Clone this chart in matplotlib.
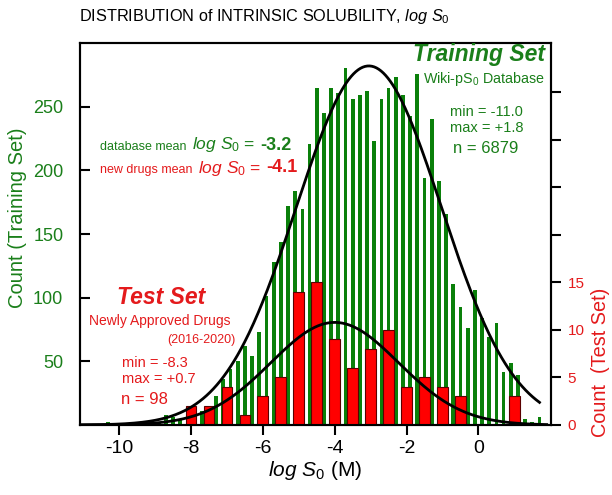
import numpy as np
import matplotlib
matplotlib.use('Agg')
import matplotlib.pyplot as plt
from matplotlib.offsetbox import TextArea, HPacker, AnnotationBbox

plt.rcParams['font.family'] = ['Liberation Sans', 'DejaVu Sans']
plt.rcParams['mathtext.fontset'] = 'custom'
plt.rcParams['mathtext.rm'] = 'Liberation Sans'
plt.rcParams['mathtext.it'] = 'Liberation Sans:italic'
plt.rcParams['mathtext.bf'] = 'Liberation Sans:bold'
plt.rcParams['axes.unicode_minus'] = False

# ---------------- data ----------------
train_centers = [-10.3, -10.1, -9.9, -9.7, -9.5, -9.3, -9.1, -8.9, -8.7, -8.5,
                 -8.3, -8.1, -7.9, -7.7, -7.5, -7.3, -7.1, -6.9, -6.7, -6.5,
                 -6.3, -6.1, -5.9, -5.7, -5.5, -5.3, -5.1, -4.9, -4.7, -4.5,
                 -4.3, -4.1, -3.9, -3.7, -3.5, -3.3, -3.1, -2.9, -2.7, -2.5,
                 -2.3, -2.1, -1.9, -1.7, -1.5, -1.3, -1.1, -0.9, -0.7, -0.5,
                 -0.3, -0.1, 0.1, 0.3, 0.5, 0.7, 0.9, 1.1, 1.3, 1.5, 1.7]
train_counts = [2, 0, 0, 1, 1, 1, 1, 2, 8, 6,
                5, 10, 10, 11, 14, 23, 36, 44, 50, 62,
                54, 73, 101, 128, 144, 172, 184, 170, 221, 265,
                245, 265, 261, 280, 256, 259, 262, 223, 256, 265,
                273, 259, 243, 276, 194, 240, 192, 166, 111, 93,
                76, 106, 84, 69, 80, 42, 49, 39, 5, 2, 6]

test_centers = [-8.0, -7.5, -7.0, -6.5, -6.0, -5.5, -5.0, -4.5, -4.0, -3.5,
                -3.0, -2.5, -2.0, -1.5, -1.0, -0.5, 0.0, 0.5, 1.0]
test_counts = [2, 2, 4, 1, 3, 5, 14, 15, 9, 6,
               8, 10, 4, 5, 4, 3, 0, 0, 3]

# Gaussian fits
train_amp, train_mu, train_sigma = 282.0, -3.05, 2.02
test_amp, test_mu, test_sigma = 10.8, -4.0, 1.78
train_fit_range = (-11.05, 1.7)
test_fit_range = (-11.05, 1.9)

x_ticks = [-10, -8, -6, -4, -2, 0]
left_ticks = [50, 100, 150, 200, 250]
right_ticks = [0, 5, 10, 15, 20, 25, 30, 35]
right_ticklabels = ['0', '5', '10', '15', '', '', '', '']

GREEN_BAR = '#0a800a'
GREEN_TXT = '#1a7f1a'
RED_BAR = '#ff0000'
RED_TXT = '#e41a1c'

# ---------------- figure ----------------
W, H = 612, 495
fig = plt.figure(figsize=(W / 100, H / 100), dpi=100)
L, R, T, B = 80, 551, 42.5, 425
ax = fig.add_axes([L / W, 1 - B / H, (R - L) / W, (B - T) / H])
ax2 = ax.twinx()


def fx(x):
    return x / W


def fy(y):
    return 1 - y / H


ax.bar(train_centers, train_counts, width=0.105, color=GREEN_BAR, linewidth=0)
ax2.bar(test_centers, test_counts, width=0.3, color=RED_BAR,
        edgecolor='#5a0000', linewidth=0.8)

xt = np.linspace(train_fit_range[0], train_fit_range[1], 400)
yt = train_amp * np.exp(-(xt - train_mu) ** 2 / (2 * train_sigma ** 2))
ax2.plot(xt, yt, color='black', lw=2.0, transform=ax.transData, zorder=3)

xs = np.linspace(test_fit_range[0], test_fit_range[1], 400)
ys = test_amp * np.exp(-(xs - test_mu) ** 2 / (2 * test_sigma ** 2))
ax2.plot(xs, ys, color='black', lw=2.0, zorder=3)

ax.set_xlim(-11.09, 2.02)
ax.set_ylim(0, 300.4)
ax2.set_ylim(0, 40.26)

ax.set_xticks(x_ticks)
ax.set_xticklabels([str(v) for v in x_ticks])
ax.set_yticks(left_ticks)
ax.set_yticklabels([str(v) for v in left_ticks])
ax2.set_yticks(right_ticks)
ax2.set_yticklabels(right_ticklabels)

ax.tick_params(axis='x', direction='out', length=7, width=1.5, labelsize=14,
               pad=4, colors='black')
ax.tick_params(axis='y', direction='in', length=7, width=1.5, labelsize=13,
               pad=12, labelcolor=GREEN_TXT)
ax2.tick_params(axis='y', direction='out', length=7, width=1.5, labelsize=11,
                pad=5, labelcolor=RED_TXT)
for a in (ax, ax2):
    for s in a.spines.values():
        s.set_linewidth(1.5)

# labels
fig.text(fx(264), fy(16), r'DISTRIBUTION of INTRINSIC SOLUBILITY, $\mathit{log\ S_0}$',
         ha='center', va='center', fontsize=11.7)
fig.text(fx(315), fy(470), r'$\mathit{log\ S_0}$ (M)', ha='center', va='center',
         fontsize=15)
fig.text(fx(18), fy(218), 'Count (Training Set)', rotation=90, ha='center',
         va='center', fontsize=14.5, color=GREEN_TXT)
fig.text(fx(600), fy(362), 'Count  (Test Set)', rotation=90, ha='center',
         va='center', fontsize=14.3, color=RED_TXT)

# training annotations
fig.text(fx(545), fy(55), 'Training Set', ha='right', va='center', fontsize=16.5,
         fontweight='bold', fontstyle='italic', color=GREEN_TXT)
fig.text(fx(545), fy(79), r'Wiki-p$\mathrm{S_0}$ Database', ha='right', va='center',
         fontsize=10.3, color=GREEN_TXT)
fig.text(fx(450), fy(112), 'min = -11.0', ha='left', va='center', fontsize=10.5,
         color=GREEN_TXT)
fig.text(fx(450), fy(128), 'max = +1.8', ha='left', va='center', fontsize=10.5,
         color=GREEN_TXT)
fig.text(fx(453), fy(149), 'n = 6879', ha='left', va='center', fontsize=12,
         color=GREEN_TXT)

# test annotations
fig.text(fx(117), fy(297), 'Test Set', ha='left', va='center', fontsize=16.5,
         fontweight='bold', fontstyle='italic', color=RED_TXT)
fig.text(fx(89), fy(321), 'Newly Approved Drugs', ha='left', va='center',
         fontsize=10, color=RED_TXT)
fig.text(fx(235), fy(340), '(2016-2020)', ha='right', va='center', fontsize=9,
         color=RED_TXT)
fig.text(fx(122), fy(363), 'min = -8.3', ha='left', va='center', fontsize=10.5,
         color=RED_TXT)
fig.text(fx(122), fy(379), 'max = +0.7', ha='left', va='center', fontsize=10.5,
         color=RED_TXT)
fig.text(fx(121), fy(399), 'n = 98', ha='left', va='center', fontsize=12,
         color=RED_TXT)


def mean_line(prefix, value, color, ypx):
    parts = [
        TextArea(prefix, textprops=dict(fontsize=9, color=color)),
        TextArea(r'$\mathit{log\ S_0}$ =', textprops=dict(fontsize=12.5, color=color)),
        TextArea(value, textprops=dict(fontsize=13, color=color, fontweight='bold')),
    ]
    box = HPacker(children=parts, align='baseline', pad=0, sep=4)
    ab = AnnotationBbox(box, (fx(100), fy(ypx)), xycoords='figure fraction',
                        box_alignment=(0, 0.5), frameon=False, pad=0)
    fig.add_artist(ab)


mean_line('database mean', '-3.2', GREEN_TXT, 145)
mean_line('new drugs mean', '-4.1', RED_TXT, 168)

fig.savefig('out.png', dpi=100)
